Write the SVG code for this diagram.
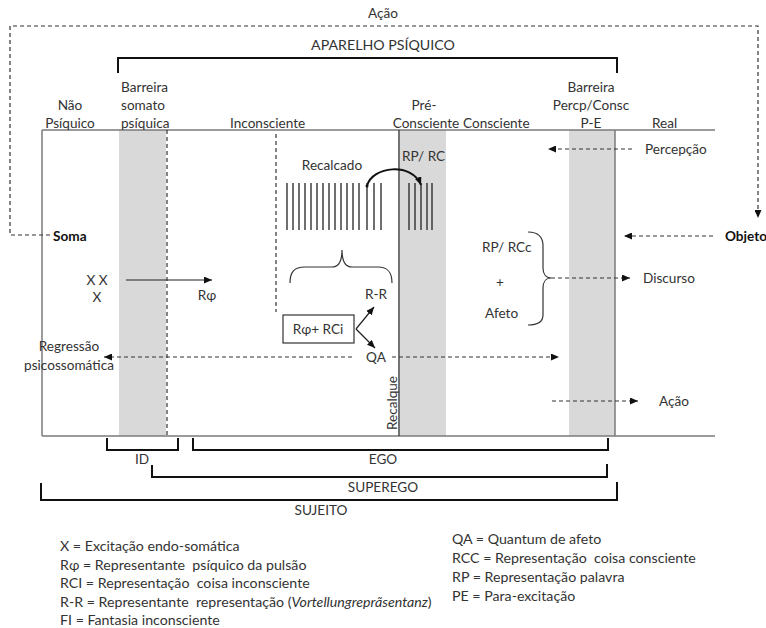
<svg xmlns="http://www.w3.org/2000/svg" width="766" height="628" viewBox="0 0 766 628">
<style>
text{font-family:Lato,"Open Sans","Liberation Sans",sans-serif;font-size:13.6px;fill:#333}
.lg{font-size:14.2px;white-space:pre}
.b{font-weight:bold;fill:#111}
.m{text-anchor:middle}
.frame{stroke:#7a7a7a;stroke-width:1.5;fill:none}
.solid{stroke:#444;stroke-width:1.5;fill:none}
.dash{stroke:#333;stroke-width:1.2;fill:none;stroke-dasharray:4 3}
.band{fill:#d9d9d9}
.br{stroke:#111;stroke-width:2;fill:none}
.ln{stroke:#222;stroke-width:1.3}
.ar{stroke:#222;stroke-width:1.2;fill:none}
.brace{stroke:#333;stroke-width:1.2;fill:none}
</style>
<defs>
<marker id="ah" viewBox="0 0 8 7" refX="8" refY="3.5" markerWidth="8" markerHeight="7" markerUnits="userSpaceOnUse" orient="auto"><path d="M0,0 L8,3.5 L0,7 z" fill="#111"/></marker>
</defs>

<g id="bands">
<rect class="band" x="119" y="130" width="47" height="306"/>
<rect class="band" x="400" y="130" width="46" height="306"/>
<rect class="band" x="569" y="130" width="46" height="306"/>
</g>

<g id="frame">
<line class="frame" x1="42" y1="130" x2="715" y2="130"/>
<line class="frame" x1="42" y1="436" x2="715" y2="436"/>
<line class="frame" x1="42" y1="130" x2="42" y2="436"/>
<line class="solid" x1="399" y1="130" x2="399" y2="436"/>
<line class="frame" x1="615" y1="130" x2="615" y2="436"/>
<line class="dash" x1="167" y1="130" x2="167" y2="436"/>
<line class="dash" x1="276" y1="134" x2="276" y2="312"/>
</g>

<g id="header">
<text class="m" x="383" y="18">Ação</text>
<text class="m" x="383" y="50" style="font-size:14.2px">APARELHO PSÍQUICO</text>
<path class="br" d="M118,73 L118,58 L617,58 L617,73"/>
</g>

<g id="col-labels">
<text class="m" x="70" y="110">Não</text>
<text class="m" x="70" y="128">Psíquico</text>
<text x="121" y="92">Barreira</text>
<text x="121" y="110">somato</text>
<text x="121" y="128">psíquica</text>
<text x="230" y="128">Inconsciente</text>
<text class="m" x="424" y="110">Pré-</text>
<text class="m" x="426" y="128">Consciente</text>
<text x="463" y="128">Consciente</text>
<text class="m" x="591" y="92">Barreira</text>
<text class="m" x="591" y="110">Percp/Consc</text>
<text class="m" x="591" y="128">P-E</text>
<text x="652" y="128">Real</text>
</g>

<g id="soma-objeto">
<text class="b" x="53" y="241">Soma</text>
<text class="b" x="725" y="241">Objeto</text>
</g>

<g id="recalcado">
<text class="m" x="332" y="170">Recalcado</text>
<g class="ln">
<line x1="287" y1="183" x2="287" y2="230"/><line x1="293" y1="183" x2="293" y2="230"/>
<line x1="299" y1="183" x2="299" y2="230"/><line x1="305" y1="183" x2="305" y2="230"/>
<line x1="311" y1="183" x2="311" y2="230"/><line x1="317" y1="183" x2="317" y2="230"/>
<line x1="323" y1="183" x2="323" y2="230"/><line x1="329" y1="183" x2="329" y2="230"/>
<line x1="335" y1="183" x2="335" y2="230"/><line x1="341" y1="183" x2="341" y2="230"/>
<line x1="347" y1="183" x2="347" y2="230"/><line x1="353" y1="183" x2="353" y2="230"/>
<line x1="359" y1="183" x2="359" y2="230"/><line x1="367" y1="183" x2="367" y2="230"/>
<line x1="374" y1="183" x2="374" y2="230"/><line x1="381" y1="183" x2="381" y2="230"/>
</g>
<path class="brace" d="M290,283 C290,272 294,267 305,267 L332,267 C338,267 342,262 342,250 C342,262 346,267 352,267 L378,267 C388,267 392,272 392,283"/>
</g>

<g id="rp-rc">
<text x="402" y="161">RP/ RC</text>
<g class="ln">
<line x1="409" y1="183" x2="409" y2="230"/><line x1="415" y1="183" x2="415" y2="230"/>
<line x1="421" y1="183" x2="421" y2="230"/><line x1="427" y1="183" x2="427" y2="230"/>
<line x1="432" y1="183" x2="432" y2="230"/>
</g>
</g>

<g id="excitacao">
<text class="m" x="97" y="285">X X</text>
<text class="m" x="97" y="302">X</text>
<text class="m" x="207" y="300">Rφ</text>
</g>

<g id="rr">
<text class="m" x="376" y="299">R-R</text>
</g>

<g id="box">
<rect x="283" y="315" width="71" height="28" fill="#fff" stroke="#333" stroke-width="1.2"/>
<text class="m" x="318" y="334">Rφ+ RCi</text>
</g>

<g id="qa">
<text class="m" x="376" y="362">QA</text>
</g>

<g id="regressao">
<text class="m" x="69" y="351">Regressão</text>
<text class="m" x="69" y="370">psicossomática</text>
</g>

<g id="recalque">
<text class="m" transform="translate(397,403) rotate(-90)">Recalque</text>
</g>

<g id="consciente-content">
<text x="482" y="252">RP/ RCc</text>
<text class="m" x="500" y="287">+</text>
<text x="485" y="318">Afeto</text>
<path class="brace" d="M528,232 C538,232 543,236 543,246 L543,268 C543,274 546,278 551,278 C546,278 543,282 543,288 L543,315 C543,321 538,325 528,325"/>
</g>

<g id="real-labels">
<text x="645" y="154">Percepção</text>
<text x="643" y="283">Discurso</text>
<text x="659" y="406">Ação</text>
</g>

<g id="connectors">
<path class="dash" d="M50,235 L10,235 L10,26 L758,26 L758,218" marker-end="url(#ah)"/>
<line class="dash" x1="632" y1="149" x2="548" y2="149" marker-end="url(#ah)"/>
<line class="dash" x1="713" y1="236" x2="624" y2="236" marker-end="url(#ah)"/>
<line class="dash" x1="551" y1="278" x2="630" y2="278" marker-end="url(#ah)"/>
<line class="dash" x1="352" y1="357" x2="104" y2="357" marker-end="url(#ah)"/>
<line class="dash" x1="392" y1="357" x2="559" y2="357" marker-end="url(#ah)"/>
<line class="dash" x1="552" y1="401" x2="638" y2="401" marker-end="url(#ah)"/>
<line class="ar" x1="126" y1="280" x2="212" y2="280" marker-end="url(#ah)"/>
<line class="ar" x1="356" y1="329" x2="374" y2="307" marker-end="url(#ah)"/>
<line class="ar" x1="356" y1="329" x2="375" y2="348" marker-end="url(#ah)"/>
<circle cx="367" cy="186" r="1.5" fill="#111"/>
<path d="M367,186 C372,166 412,162 421,185" stroke="#111" stroke-width="2" fill="none" marker-end="url(#ah)"/>
</g>

<g id="brackets">
<path class="br" d="M107,438 L107,450 L178,450 L178,438"/>
<text class="m" x="142" y="464">ID</text>
<path class="br" d="M193,438 L193,450 L608,450 L608,438"/>
<text class="m" x="383" y="464">EGO</text>
<path class="br" d="M152,465 L152,477 L607,477 L607,464"/>
<text class="m" x="383" y="492">SUPEREGO</text>
<path class="br" d="M41,483 L41,500 L617,500 L617,482"/>
<text class="m" x="321" y="515">SUJEITO</text>
</g>

<g id="legend">
<text class="lg" x="60" y="551">X = Excitação endo-somática</text>
<text class="lg" x="60" y="570">Rφ = Representante  psíquico da pulsão</text>
<text class="lg" x="60" y="588">RCI = Representação  coisa inconsciente</text>
<text class="lg" x="60" y="607">R-R = Representante  representação (<tspan font-style="italic">Vortellungreprãsentanz</tspan>)</text>
<text class="lg" x="60" y="625">FI = Fantasia inconsciente</text>
<text class="lg" x="452" y="544">QA = Quantum de afeto</text>
<text class="lg" x="452" y="563">RCC = Representação  coisa consciente</text>
<text class="lg" x="452" y="582">RP = Representação palavra</text>
<text class="lg" x="452" y="601">PE = Para-excitação</text>
</g>
</svg>
